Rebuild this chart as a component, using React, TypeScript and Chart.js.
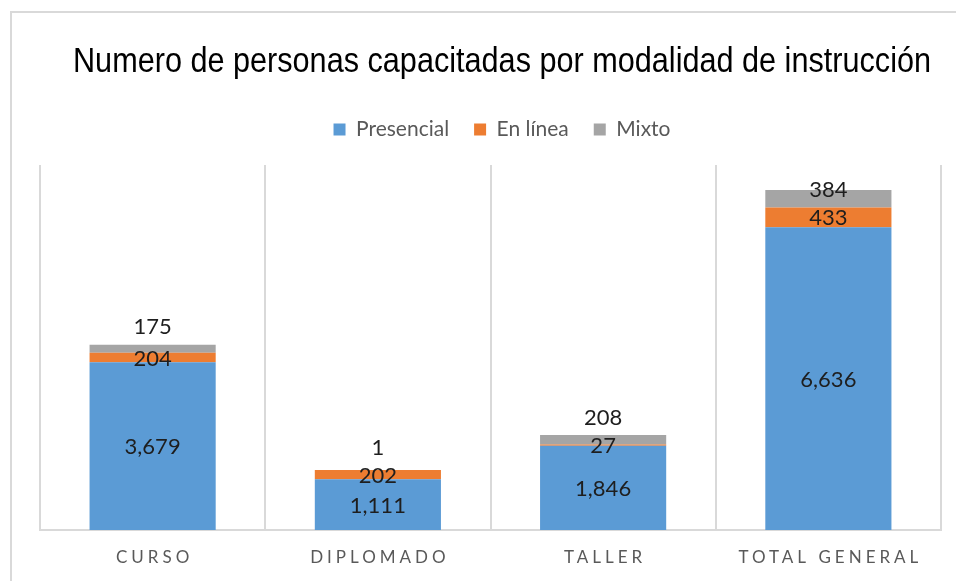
import React, { useEffect, useRef } from "react";
import { Chart, registerables } from "chart.js";

Chart.register(...registerables);

// ---- Data ----
const categories = ["CURSO", "DIPLOMADO", "TALLER", "TOTAL GENERAL"];
const seriesNames = ["Presencial", "En línea", "Mixto"];
const presencial = [3679, 1111, 1846, 6636];
const enLinea = [204, 202, 27, 433];
const mixto = [175, 1, 208, 384];
const yMax = 8000;
const titleText = "Numero de personas capacitadas por modalidad de instrucción";

// ---- Styles ----
const colors = ["#5B9BD5", "#ED7D31", "#A5A5A5"];
const mixtoLabelShift = [-23, -23, -23, -10];
const labelFont = "Lato, 'Open Sans', sans-serif";
const titleSize = 35;
const titlePadTop = 41;
const titleCondense = 0.875;

const fmt = (v: number) => v.toLocaleString("en-US");

const dataLabels = {
  id: "dataLabels",
  afterDatasetsDraw(chart: any) {
    const ctx = chart.ctx;
    ctx.save();
    ctx.font = `22px ${labelFont}`;
    ctx.fillStyle = "#1e1e1e";
    ctx.textAlign = "center";
    ctx.textBaseline = "middle";
    chart.data.datasets.forEach((ds: any, di: number) => {
      const meta = chart.getDatasetMeta(di);
      meta.data.forEach((bar: any, i: number) => {
        const p = bar.getProps(["x", "y", "base"], true);
        let cy = (p.y + p.base) / 2;
        if (di === 2) cy += mixtoLabelShift[i];
        ctx.fillText(fmt(ds.data[i]), p.x, cy + 1);
      });
    });
    ctx.restore();
  },
};

const customText = {
  id: "customText",
  afterDraw(chart: any) {
    const ctx = chart.ctx;
    // condensed title
    const tb = chart.titleBlock;
    ctx.save();
    ctx.font = `${titleSize}px 'Liberation Sans', Arial, sans-serif`;
    ctx.fillStyle = "#000";
    ctx.textAlign = "center";
    ctx.textBaseline = "middle";
    const cx = (tb.left + tb.right) / 2;
    const cy = tb.top + titlePadTop + (titleSize * 1.2) / 2;
    ctx.translate(cx, cy);
    ctx.scale(titleCondense, 1);
    ctx.fillText(titleText, 0, 0);
    ctx.restore();

    // letter-spaced category labels
    const xs = chart.scales.x;
    const spacing = 4;
    ctx.save();
    ctx.font = `17px ${labelFont}`;
    (ctx as any).letterSpacing = `${spacing}px`;
    ctx.fillStyle = "#595959";
    ctx.textAlign = "center";
    ctx.textBaseline = "middle";
    categories.forEach((c, i) => {
      ctx.fillText(c, xs.getPixelForValue(i) + spacing / 2, chart.chartArea.bottom + 28);
    });
    ctx.restore();
  },
};

export default function App() {
  const ref = useRef<HTMLCanvasElement | null>(null);

  useEffect(() => {
    if (!ref.current) return;
    const chart = new Chart(ref.current, {
      type: "bar",
      data: {
        labels: categories,
        datasets: [presencial, enLinea, mixto].map((d, i) => ({
          label: seriesNames[i],
          data: d,
          backgroundColor: colors[i],
          borderWidth: 0,
          categoryPercentage: 1,
          barPercentage: 0.56,
        })),
      },
      options: {
        responsive: false,
        animation: false,
        layout: { padding: { top: 0, bottom: 30.6, left: 0, right: 0 } },
        plugins: {
          title: {
            display: true,
            text: " ",
            color: "rgba(0,0,0,0)",
            font: { family: "'Liberation Sans', Arial, sans-serif", size: titleSize, weight: "normal" },
            padding: { top: titlePadTop, bottom: 11 },
          },
          subtitle: {
            display: true,
            text: " ",
            weight: 500,
            font: { size: 10 },
            padding: { top: 0, bottom: 3 },
          },
          legend: {
            display: true,
            position: "top",
            labels: {
              boxWidth: 12,
              boxHeight: 12,
              padding: 25,
              color: "#595959",
              font: { family: labelFont, size: 21 },
            },
          },
          tooltip: { enabled: false },
        },
        scales: {
          x: {
            stacked: true,
            grid: { display: true, color: "#d9d9d9", lineWidth: 2, offset: true, drawTicks: false },
            border: { display: true, color: "#d9d9d9", width: 2 },
            ticks: {
              color: "rgba(0,0,0,0)",
              padding: 0,
              font: { family: labelFont, size: 17 },
              maxRotation: 0,
              autoSkip: false,
            },
          },
          y: {
            stacked: true,
            min: 0,
            max: yMax,
            position: "left",
            grid: { display: false },
            border: { display: false },
            ticks: { display: false },
            afterFit: (s: any) => {
              s.width = 40;
            },
          },
          yR: {
            type: "linear",
            position: "right",
            grid: { display: false },
            border: { display: false },
            ticks: { display: false },
            afterFit: (s: any) => {
              s.width = 63;
            },
          },
        },
      } as any,
      plugins: [dataLabels, customText],
    });
    return () => chart.destroy();
  }, []);

  return (
    <div style={{ position: "fixed", inset: 0, overflow: "hidden", background: "#fff" }}>
      <div
        style={{
          position: "absolute",
          left: 10,
          top: 11,
          width: 1100,
          height: 700,
          border: "2px solid #d9d9d9",
          boxSizing: "border-box",
        }}
      />
      <canvas
        ref={ref}
        width={1004}
        height={581}
        style={{ position: "absolute", left: 0, top: 0, width: 1004, height: 581 }}
      />
    </div>
  );
}
